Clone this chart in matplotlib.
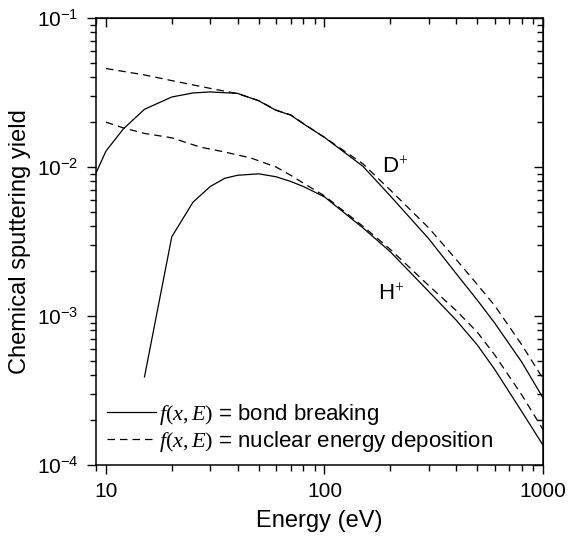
import matplotlib
matplotlib.use("Agg")
import matplotlib.pyplot as plt
import matplotlib.ticker as mticker
from matplotlib.lines import Line2D

plt.rcParams['font.family'] = ['Liberation Sans', 'DejaVu Sans']
plt.rcParams['mathtext.fontset'] = 'custom'
plt.rcParams['mathtext.rm'] = 'Liberation Serif'
plt.rcParams['mathtext.it'] = 'Liberation Serif:italic'

# D+ : bond breaking (solid) and nuclear energy deposition (dashed)
d_bond_E = [9, 10, 12, 15, 20, 25, 30, 40, 50, 60, 70, 80, 100, 150, 200, 300, 400, 500, 600, 800, 1000]
d_bond_Y = [0.0091, 0.0128, 0.0180, 0.0244, 0.0295, 0.0314, 0.0319, 0.0312, 0.0278, 0.0240, 0.0223, 0.0195,
            0.0158, 0.0101, 0.0064, 0.0033, 0.00193, 0.00128, 0.00090, 0.00049, 0.000282]
d_nucl_E = [10, 15, 20, 30, 40, 50, 60, 70, 80, 100, 150, 200, 300, 400, 500, 600, 800, 1000]
d_nucl_Y = [0.0458, 0.0415, 0.0380, 0.0337, 0.0311, 0.0279, 0.0241, 0.0224, 0.0196, 0.0158, 0.0105, 0.0070,
            0.0039, 0.00240, 0.00163, 0.00118, 0.00064, 0.00038]

# H+
h_bond_E = [15, 20, 25, 30, 35, 40, 50, 60, 70, 80, 100, 150, 200, 300, 400, 500, 600, 800, 1000]
h_bond_Y = [0.00039, 0.0034, 0.0058, 0.0074, 0.0084, 0.0088, 0.0090, 0.0086, 0.0080, 0.0074, 0.0063, 0.0039,
            0.0027, 0.00146, 0.00094, 0.00064, 0.00044, 0.000228, 0.000136]
h_nucl_E = [10, 12, 15, 20, 27, 35, 46, 60, 70, 80, 100, 150, 200, 300, 400, 500, 600, 800, 1000]
h_nucl_Y = [0.0200, 0.0183, 0.0168, 0.0157, 0.0136, 0.0126, 0.0115, 0.0100, 0.0088, 0.0078, 0.0064, 0.0040,
            0.0028, 0.00160, 0.00109, 0.00078, 0.00055, 0.000295, 0.000173]

labels = [r'$f(x,E)$ = bond breaking', r'$f(x,E)$ = nuclear energy deposition']

dash = (0, (6, 4))
lw = 0.9

fig = plt.figure(figsize=(5.68, 5.40), dpi=100)
ax = fig.add_axes([96 / 568, 1 - 465 / 540, 447 / 568, 447 / 540])

ax.plot(d_bond_E, d_bond_Y, color='black', lw=lw)
ax.plot(d_nucl_E, d_nucl_Y, color='black', lw=lw, linestyle=dash)
ax.plot(h_bond_E, h_bond_Y, color='black', lw=lw)
ax.plot(h_nucl_E, h_nucl_Y, color='black', lw=lw, linestyle=dash)

ax.set_xscale('log')
ax.set_yscale('log')
ax.set_xlim(9, 1000)
ax.set_ylim(1e-4, 1e-1)

ax.xaxis.set_major_formatter(mticker.FuncFormatter(lambda v, _: f"{v:g}"))
ax.xaxis.set_minor_formatter(mticker.NullFormatter())
ax.yaxis.set_minor_formatter(mticker.NullFormatter())
ax.yaxis.set_major_locator(mticker.LogLocator(base=10, numticks=10))
ax.yaxis.set_minor_locator(mticker.LogLocator(base=10, subs=range(2, 10), numticks=20))

ax.tick_params(which='both', direction='out', labelsize=15, width=1.0)
ax.tick_params(which='major', length=6.5, pad=6)
ax.tick_params(which='minor', length=4)
for s in ax.spines.values():
    s.set_linewidth(1.1)

# inward ticks on top and right
top = ax.secondary_xaxis('top')
top.tick_params(which='both', direction='in', width=1.0, labeltop=False)
top.tick_params(which='major', length=6.5)
top.tick_params(which='minor', length=4)
top.xaxis.set_major_formatter(mticker.NullFormatter())
top.xaxis.set_minor_formatter(mticker.NullFormatter())
right = ax.secondary_yaxis('right')
right.tick_params(which='both', direction='in', width=1.0, labelright=False)
right.tick_params(which='major', length=6.5)
right.tick_params(which='minor', length=4)
right.yaxis.set_major_formatter(mticker.NullFormatter())
right.yaxis.set_minor_formatter(mticker.NullFormatter())
right.yaxis.set_minor_locator(mticker.LogLocator(base=10, subs=range(2, 10), numticks=20))

ax.set_xlabel('Energy (eV)', fontsize=17, labelpad=6)
ax.set_ylabel('Chemical sputtering yield', fontsize=17, labelpad=4)

ax.text(184, 0.0090, r'D$^{+}$', fontsize=16)
ax.text(175, 0.00128, r'H$^{+}$', fontsize=16)

handles = [Line2D([], [], color='black', lw=lw),
           Line2D([], [], color='black', lw=lw, linestyle=dash)]
ax.legend(handles, labels, loc='lower left', bbox_to_anchor=(0.0, 0.0), frameon=False, fontsize=16,
          handlelength=2.2, handletextpad=0.15, labelspacing=0.1, borderaxespad=0.1)

fig.savefig('out.png', dpi=100)
